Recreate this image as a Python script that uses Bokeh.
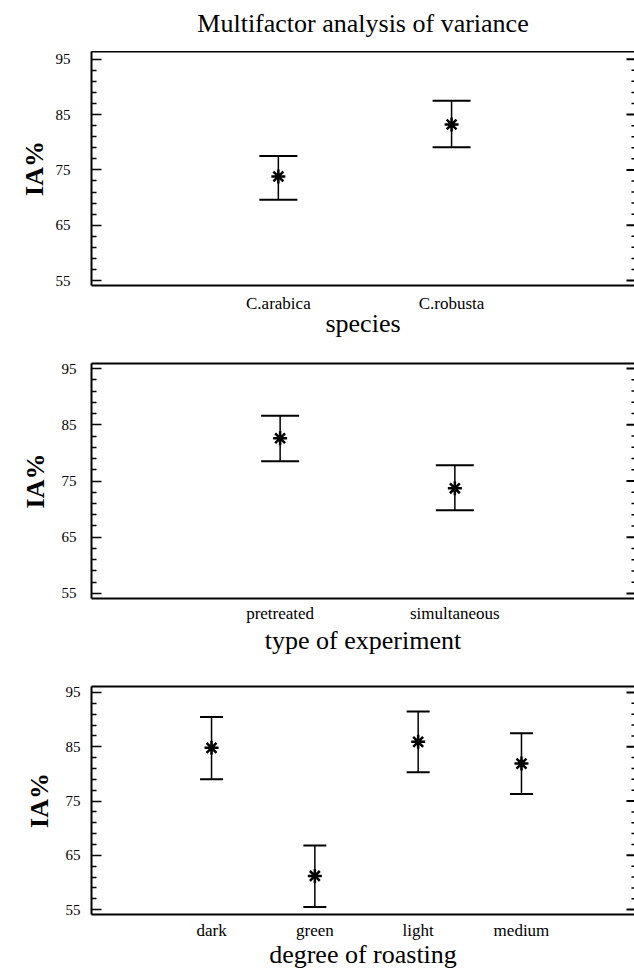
import numpy as np
from bokeh.plotting import figure
from bokeh.models import ColumnDataSource, Whisker, TeeHead, FixedTicker, LinearAxis, Range1d
from bokeh.layouts import column
from bokeh.embed import file_html
from bokeh.resources import INLINE

# ---------------- data ----------------
title_text = "Multifactor analysis of variance"
y_label = "IA%"
y_ticks = [55, 65, 75, 85, 95]

species = ["C.arabica", "C.robusta"]
species_mean = [73.8, 83.2]
species_low = [69.6, 79.1]
species_high = [77.5, 87.5]

experiment = ["pretreated", "simultaneous"]
experiment_mean = [82.6, 73.7]
experiment_low = [78.5, 69.8]
experiment_high = [86.6, 77.8]

roasting = ["dark", "green", "light", "medium"]
roasting_mean = [84.8, 61.2, 85.9, 81.9]
roasting_low = [79.0, 55.5, 80.3, 76.3]
roasting_high = [90.5, 66.8, 91.5, 87.5]

FONT = "Liberation Serif"
WIDTH = 634

# ---------------- title strip ----------------
pt = figure(width=WIDTH, height=51, output_backend="svg", toolbar_location=None,
            x_range=Range1d(0, 1), y_range=Range1d(0, 1),
            min_border_left=88, min_border_right=0, min_border_top=0, min_border_bottom=0,
            outline_line_color=None, background_fill_color="white", border_fill_color="white")
pt.axis.visible = False
pt.grid.visible = False
pt.title.text = title_text
pt.title.align = "center"
pt.title.vertical_align = "top"
pt.title.text_font = FONT
pt.title.text_font_size = "26px"
pt.title.text_font_style = "normal"
pt.title.text_color = "black"
pt.title.standoff = 16


def make_panel(cats, mean, low, high, xlabel, height, xr, yr, b_left, b_top, b_bottom,
               cap, ytick_standoff, ylab_standoff, xtick_standoff, xlab_standoff):
    xs = list(range(1, len(cats) + 1))
    src = ColumnDataSource(dict(x=xs, mean=mean, low=low, high=high))
    p = figure(width=WIDTH, height=height, output_backend="svg", toolbar_location=None,
               x_range=Range1d(*xr), y_range=Range1d(*yr),
               min_border_left=b_left, min_border_right=0, min_border_top=b_top,
               min_border_bottom=b_bottom, background_fill_color="white",
               border_fill_color="white", outline_line_color=None)
    p.xgrid.visible = False
    p.ygrid.visible = False
    p.title.visible = False

    minor = [t + d for t in y_ticks[:-1] for d in (2, 4, 6, 8)]

    # left axis
    ya = p.yaxis[0]
    ya.ticker = FixedTicker(ticks=y_ticks, minor_ticks=minor)
    ya.axis_line_width = 2
    ya.axis_line_color = "black"
    ya.major_tick_in = 10
    ya.major_tick_out = 0
    ya.minor_tick_in = 5
    ya.minor_tick_out = 0
    ya.major_tick_line_width = 1.5
    ya.minor_tick_line_width = 1.5
    ya.major_label_text_font = FONT
    ya.major_label_text_font_size = "15px"
    ya.major_label_text_color = "black"
    ya.major_label_standoff = ytick_standoff
    ya.axis_label = y_label
    ya.axis_label_text_font = FONT
    ya.axis_label_text_font_size = "26px"
    ya.axis_label_text_font_style = "bold"
    ya.axis_label_text_color = "black"
    ya.axis_label_standoff = ylab_standoff

    # bottom axis
    xa = p.xaxis[0]
    xa.ticker = FixedTicker(ticks=xs)
    xa.major_label_overrides = {x: c for x, c in zip(xs, cats)}
    xa.axis_line_width = 2
    xa.axis_line_color = "black"
    xa.major_tick_in = 0
    xa.major_tick_out = 0
    xa.minor_tick_in = 0
    xa.minor_tick_out = 0
    xa.major_label_text_font = FONT
    xa.major_label_text_font_size = "17px"
    xa.major_label_text_color = "black"
    xa.major_label_standoff = xtick_standoff
    xa.axis_label = xlabel
    xa.axis_label_text_font = FONT
    xa.axis_label_text_font_size = "26px"
    xa.axis_label_text_font_style = "normal"
    xa.axis_label_text_color = "black"
    xa.axis_label_standoff = xlab_standoff

    # top frame line (axis without ticks or labels)
    top = LinearAxis(ticker=FixedTicker(ticks=[]), axis_line_width=2, axis_line_color="black",
                     major_tick_in=0, major_tick_out=0, minor_tick_in=0, minor_tick_out=0,
                     major_label_standoff=0)
    p.add_layout(top, "above")

    # inward ticks on the right edge of the frame
    x_edge = xr[1]
    p.ray(x=[x_edge] * len(y_ticks), y=y_ticks, length=8, angle=np.pi,
          length_units="screen", line_color="black", line_width=2)
    p.ray(x=[x_edge] * len(minor), y=minor, length=3, angle=np.pi,
          length_units="screen", line_color="black", line_width=1.5)

    w = Whisker(source=src, base="x", upper="high", lower="low", dimension="height",
                line_color="black", line_width=1.5,
                upper_head=TeeHead(size=cap, line_width=2, line_color="black"),
                lower_head=TeeHead(size=cap, line_width=2, line_color="black"))
    p.add_layout(w)
    p.scatter("x", "mean", source=src, marker="asterisk", size=14, line_width=2.5,
              line_color="black")
    return p


p1 = make_panel(species, species_mean, species_low, species_high, "species", 289,
                (-0.0787, 3.056), (54.1, 96.4), 76, 0, 52, 38, 21, 4, 8, -7)
p2 = make_panel(experiment, experiment_mean, experiment_low, experiment_high, "type of experiment", 320,
                (-0.0795, 3.028), (54.1, 95.9), 87, 23, 62, 38, 15, 9, 5, 0)
p3 = make_panel(roasting, roasting_mean, roasting_low, roasting_high, "degree of roasting", 311,
                (-0.162, 5.094), (54.1, 96.1), 91, 26, 54, 23, 11, 9, 6, -3)

layout = column(pt, p1, p2, p3, spacing=0)
open("out.html", "w").write(file_html(layout, INLINE))
